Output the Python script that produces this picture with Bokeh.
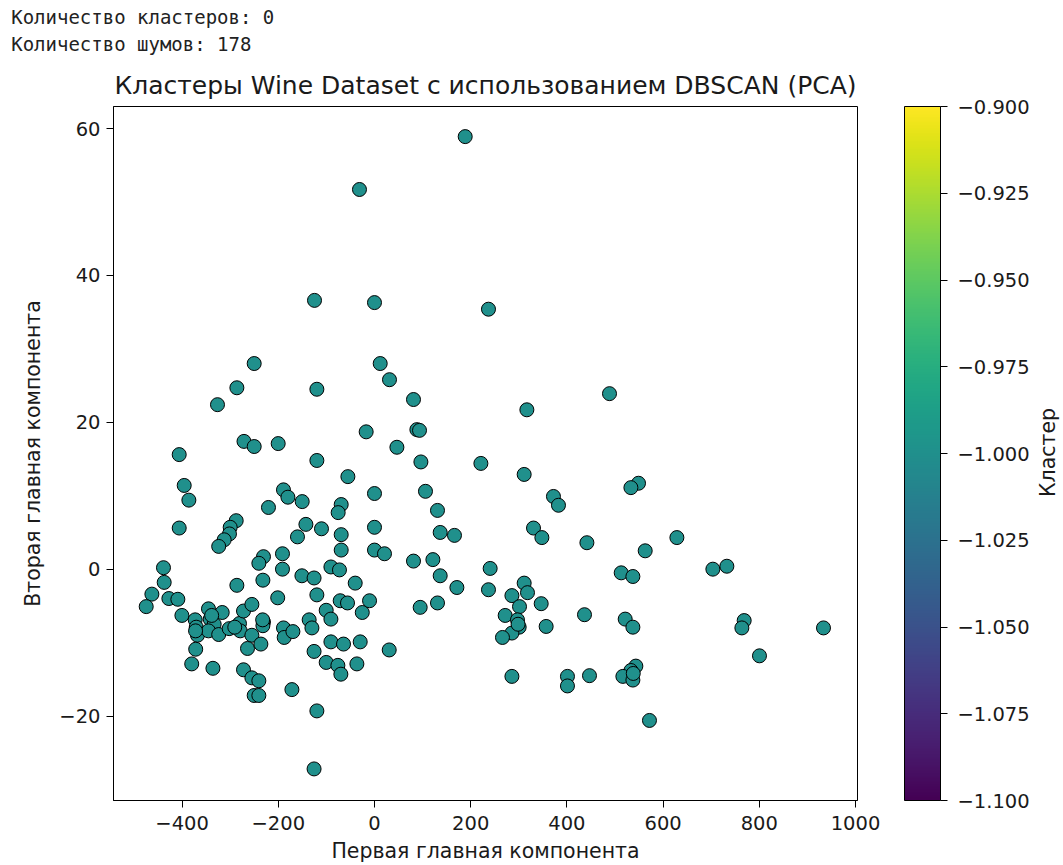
from math import pi
from bokeh.plotting import figure
from bokeh.models import (Range1d, FixedTicker, CustomJSTickFormatter, LinearColorMapper,
                          ColorBar, Label, ColumnDataSource)
from bokeh.transform import transform
from bokeh.palettes import Viridis256
from bokeh.embed import file_html
from bokeh.resources import INLINE

# ---- data (PCA components of the Wine dataset) ----
pc1 = [
    -31.2, -124.7, 0.0, 188.6, 237.0,
    -250.1, -286.1, -119.8, -326.4, -17.3, -271.3, -250.1, -200.2, -406.0, -119.8,
    -55.3, -395.6, -385.9, -189.2, -180.0, -150.3, -220.4, -69.2, -75.5, -406.0,
    -287.5, -300.0, -301.5, -312.5, -323.9, -142.6, -110.2, -160.1, -69.2, -69.2,
    -191.3, -230.8, -240.4, -191.3, -438.7, -90.6, -72.8,
    -437.2, -462.8, -474.6, -427.5, -408.8, -400.4, -372.8, -370.6, -368.0, -345.1,
    -341.6, -333.3, -316.6, -345.1, -323.9, -302.1, -280.7, -279.2, -272.3, -254.9,
    -286.1, -232.0, -254.9, -264.0, -236.2, -230.8, -232.0, -371.7, -380.0, -335.9,
    -272.3, -254.9, -240.4, -250.1, -240.4, -171.7, -119.8, -125.6, -201.2, -189.2,
    -187.7, -169.6, -135.8, -130.1, -125.6, -100.4, -90.6, -90.6, -64.4, -29.7,
    -100.4, -76.1, -69.9, -36.6, -119.8, -71.3, -56.1, -25.4, -40.1, -150.9, -125.6,
    11.9, 31.2, 81.1, 88.1, 93.6, 46.6, 96.5, 221.2, 316.8, 488.6,
    311.2, 0.0, 106.0, 131.0, 372.1, 382.5, 0.0, 136.6, 166.3, 330.6,
    348.0, 441.6, 0.0, 20.8, 81.1, 121.4, 240.5,
    -10.3, 30.6, 95.0, 131.0, 136.6, 171.3, 237.0, 311.2, 318.1, 285.7,
    301.5, 271.7, 297.3, 300.8, 285.7, 266.1, 346.6, 356.9, 436.6, 285.7,
    401.2, 401.2, 447.0,
    548.9, 533.1, 628.7, 562.8, 512.9, 537.2, 703.5, 732.6,
    521.2, 537.2, 543.4, 533.1, 516.4, 537.2, 571.7, 768.6, 763.8, 800.4, 933.5,
    -338.5, -290.5, -232.5, 298.5, 538.0, -372.0,
]
pc2 = [
    51.7, 36.6, 36.3, 58.9, 35.4,
    28.0, 24.7, 24.5, 22.4, 18.7, 17.4, 16.7, 17.1, 15.6, 14.8,
    12.6, 11.4, 9.4, 10.8, 9.8, 9.2, 8.4, 8.8, 7.7, 5.6,
    6.6, 5.7, 4.8, 4.0, 3.1, 6.1, 5.5, 4.4, 4.7, 2.6,
    2.1, 1.7, 0.8, 0.0, 0.2, 0.3, -0.1,
    -1.8, -3.4, -5.1, -4.0, -4.1, -6.3, -6.9, -7.9, -9.0, -5.4,
    -6.8, -7.5, -5.9, -8.4, -8.9, -8.1, -7.4, -8.4, -5.7, -4.8,
    -2.2, -1.5, -9.0, -10.8, -10.2, -7.2, -7.7, -10.9, -12.9, -13.5,
    -13.7, -14.8, -15.2, -17.2, -17.2, -16.4, -19.3, -27.2, -3.9, -8.0,
    -9.3, -8.5, -6.9, -8.0, -11.2, -5.6, -6.8, -9.9, -10.2, -9.9,
    -12.7, -13.1, -14.3, -12.9, -3.5, -4.3, -4.6, -5.9, -1.9, -0.9, -1.2,
    28.0, 25.8, 23.1, 19.0, 18.9, 16.6, 14.6, 14.4, 21.7, 23.9,
    12.9, 10.3, 10.6, 8.0, 9.9, 8.7, 5.7, 5.0, 4.6, 5.6,
    4.3, 3.6, 2.6, 2.1, 1.1, 1.3, 0.1,
    -4.3, -11.0, -5.2, -4.6, -0.9, -2.5, -2.8, -1.9, -3.2, -3.6,
    -5.1, -6.3, -6.9, -7.9, -8.7, -9.3, -4.7, -7.8, -6.2, -14.6,
    -14.6, -15.9, -14.5,
    11.7, 11.1, 4.3, 2.5, -0.5, -1.0, 0.0, 0.4,
    -6.8, -7.9, -13.2, -13.8, -14.6, -15.1, -20.6, -7.0, -8.0, -11.8, -8.0,
    -6.3, -7.9, -6.9, -7.5, -14.2, -8.4,
]
cluster = [-1] * len(pc1)   # DBSCAN labels: every point is noise

x_ticks = [-400, -200, 0, 200, 400, 600, 800, 1000]
y_ticks = [-20, 0, 20, 40, 60]
cbar_ticks = [-1.1, -1.075, -1.05, -1.025, -1.0, -0.975, -0.95, -0.925, -0.9]

title = "Кластеры Wine Dataset с использованием DBSCAN (PCA)"
x_label = "Первая главная компонента"
y_label = "Вторая главная компонента"
cbar_label = "Кластер"
stdout_lines = ["Количество кластеров: 0", "Количество шумов: 178"]

FONT = "DejaVu Sans"
TICK_PX = "19.5px"
LABEL_PX = "20.5px"
TITLE_PX = "25px"
TEXT_COLOR = "#1a1a1a"

X0, X1 = -542.6, 1004.2
Y0, Y1 = -31.5, 63.0

source = ColumnDataSource(dict(pc1=pc1, pc2=pc2, cluster=cluster))
mapper = LinearColorMapper(palette=Viridis256, low=-1.1, high=-0.9)

p = figure(width=1063, height=865, min_border_left=113, min_border_right=206,
           min_border_top=106, min_border_bottom=65,
           x_range=Range1d(X0, X1), y_range=Range1d(Y0, Y1),
           output_backend="svg", toolbar_location=None)

p.background_fill_color = "white"
p.border_fill_color = "white"
p.outline_line_color = "black"
p.outline_line_width = 1
p.xgrid.visible = False
p.ygrid.visible = False

fmt = CustomJSTickFormatter(code="return (tick < 0 ? '\u2212' : '') + Math.abs(tick).toString();")
cfmt = CustomJSTickFormatter(code="return (tick < 0 ? '\u2212' : '') + Math.abs(tick).toFixed(3);")

p.xaxis.ticker = FixedTicker(ticks=x_ticks)
p.yaxis.ticker = FixedTicker(ticks=y_ticks)
for ax in (p.xaxis[0], p.yaxis[0]):
    ax.formatter = fmt
    ax.major_tick_in = 0
    ax.major_tick_out = 7
    ax.minor_tick_line_color = None
    ax.axis_line_color = "black"
    ax.major_tick_line_color = "black"
    ax.major_label_text_font = FONT
    ax.major_label_text_font_size = TICK_PX
    ax.major_label_text_color = TEXT_COLOR
    ax.axis_label_text_font = FONT
    ax.axis_label_text_font_size = LABEL_PX
    ax.axis_label_text_font_style = "normal"
    ax.axis_label_text_color = TEXT_COLOR
p.xaxis.axis_label = x_label
p.yaxis.axis_label = y_label
p.xaxis.major_label_standoff = 8
p.xaxis.axis_label_standoff = 6
p.yaxis.major_label_standoff = 6
p.yaxis.axis_label_standoff = 11

p.scatter("pc1", "pc2", source=source, size=14,
          fill_color=transform("cluster", mapper), line_color="black", line_width=1)

cb = ColorBar(color_mapper=mapper, location=(791, 0), width=36, height=694,
              padding=0, margin=0, ticker=FixedTicker(ticks=cbar_ticks), formatter=cfmt,
              major_tick_in=0, major_tick_out=7, major_tick_line_color="black",
              bar_line_color="black", label_standoff=10,
              major_label_text_font=FONT, major_label_text_font_size=TICK_PX,
              major_label_text_color=TEXT_COLOR,
              background_fill_alpha=0, border_line_color=None)
p.add_layout(cb)

# texts outside the frame (placed in side panels, positioned through the plot's own scales)
px_x = (X1 - X0) / 744.0   # data units per pixel
px_y = (Y1 - Y0) / 694.0
p.add_layout(Label(x=X1 + (1048 - 857.3) * px_x, y=Y1 - (452 - 106) * px_y,
                   text=cbar_label, angle=pi / 2, text_align="center", text_baseline="middle",
                   text_font=FONT, text_font_size=LABEL_PX, text_color=TEXT_COLOR), "right")

p.add_layout(Label(x=(X0 + X1) / 2, y=Y1 + (106 - 85) * px_y, text=title,
                   text_align="center", text_baseline="alphabetic",
                   text_font=FONT, text_font_size=TITLE_PX, text_color=TEXT_COLOR), "above")

for i, (line, base_px) in enumerate(zip(stdout_lines, [16.5, 43])):
    p.add_layout(Label(x=X0 - (113.3 - 11) * px_x, y=Y1 + (106 - base_px) * px_y, text=line,
                       text_align="left", text_baseline="alphabetic",
                       text_font="DejaVu Sans Mono", text_font_size="19px",
                       text_color="#222222"), "above")

open("out.html", "w").write(file_html(p, INLINE))
